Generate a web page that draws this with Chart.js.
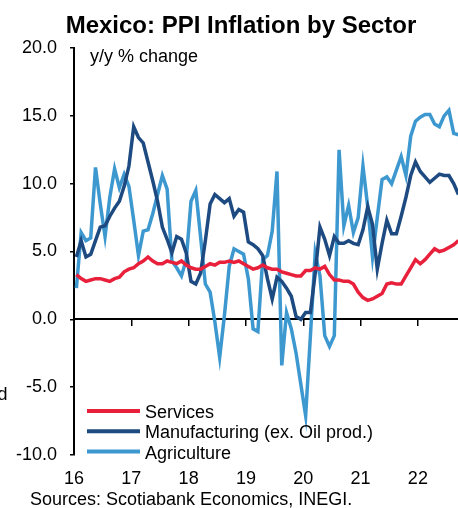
<!DOCTYPE html>
<html>
<head>
<meta charset="utf-8">
<script src="https://cdn.jsdelivr.net/npm/chart.js@4.4.1/dist/chart.umd.min.js"></script>
<style>
  html, body { margin: 0; padding: 0; background: #fff; }
  canvas { display: block; }
</style>
</head>
<body>
<canvas id="ppiChart" width="458" height="508"></canvas>
<script>
// monthly data, Jan 2016 .. Sep 2022 (y/y % change)
const startYear = 2016;
const yearLabels = ['16', '17', '18', '19', '20', '21', '22'];

const services = [
  3.3, 3.0, 2.8, 2.9, 3.0, 3.0, 2.9, 2.8, 3.0, 3.1, 3.5, 3.7,
  3.8, 4.1, 4.3, 4.6, 4.3, 4.1, 4.1, 4.3, 4.2, 4.1, 4.3, 4.0,
  3.8, 3.7, 3.7, 3.9, 4.1, 4.0, 4.2, 4.2, 4.3, 4.2, 4.3, 4.1,
  3.9, 3.7, 3.8, 4.0, 3.8, 3.7, 3.7, 3.5, 3.4, 3.3, 3.2, 3.2,
  3.6, 3.6, 3.8, 3.7, 3.9, 3.3, 2.9, 2.9, 2.8, 2.8, 2.6, 2.0,
  1.6, 1.4, 1.5, 1.7, 1.9, 2.6, 2.7, 2.6, 2.6, 3.2, 3.8, 4.4,
  4.1, 4.4, 4.8, 5.2, 5.0, 5.1, 5.3, 5.5, 5.8
];

const manufacturing = [
  4.6, 5.8, 4.6, 4.8, 5.8, 6.8, 6.9, 7.6, 8.2, 8.7, 9.8, 11.3,
  14.2, 13.4, 13.0, 11.6, 10.2, 8.7, 6.8, 5.9, 4.9, 6.1, 5.9, 4.9,
  2.8, 2.6, 3.4, 5.8, 8.5, 9.2, 8.9, 8.6, 8.9, 7.6, 8.1, 7.9,
  5.7, 5.5, 5.2, 4.7, 3.0, 1.5, 3.1, 2.8, 2.3, 1.7, 0.2, 0.0,
  0.5, 0.5, 3.4, 6.8, 5.9, 4.7, 6.1, 5.6, 5.6, 5.8, 5.6, 5.5,
  6.6, 8.3, 7.0, 3.7, 5.6, 7.3, 6.3, 6.3, 7.6, 9.0, 10.6, 11.6,
  10.9, 10.5, 10.1, 10.4, 10.7, 10.6, 10.6, 10.0, 9.2
];

const agriculture = [
  2.3, 6.4, 5.8, 6.0, 11.2, 8.5, 6.1, 9.0, 11.1, 9.7, 10.7, 9.8,
  7.3, 4.7, 6.5, 6.6, 7.8, 9.2, 10.6, 9.6, 4.3, 3.8, 3.2, 4.4,
  8.7, 9.5, 6.1, 2.6, 2.0, -0.2, -2.8, 0.3, 3.9, 5.2, 5.0, 4.8,
  3.0, -0.7, -0.9, 4.4, 4.7, 6.5, 10.9, -3.4, 0.5, -0.7, -2.5, -4.8,
  -7.1, -1.2, 4.9, 3.2, -1.2, -2.0, -1.2, 12.5, 6.9, 8.4, 6.4, 7.5,
  11.3, 8.3, 4.6, 7.5, 10.3, 10.5, 10.0, 11.0, 12.0, 10.6, 13.5, 14.6,
  14.9, 15.1, 15.1, 14.4, 14.2, 15.0, 15.4, 13.7, 13.6
];

const seriesNames = ['Services', 'Manufacturing (ex. Oil prod.)', 'Agriculture'];
const seriesColors = ['#e8203c', '#1d4a80', '#3d98d0'];

const titleText = 'Mexico: PPI Inflation by Sector';
const unitText = 'y/y % change';
const sourceText = 'Sources: Scotiabank Economics, INEGI.';

const FONT = '"Liberation Sans", Arial, sans-serif';
Chart.defaults.font.family = FONT;
Chart.defaults.font.size = 18;
Chart.defaults.color = '#000';

// x position of each month (decimal years, mid-month)
const toPoints = arr => arr.map((v, i) => ({ x: startYear + (i + 0.5) / 12, y: v }));

const data = {
  datasets: [services, manufacturing, agriculture].map((arr, k) => ({
    label: seriesNames[k],
    data: toPoints(arr),
    borderColor: seriesColors[k],
    backgroundColor: seriesColors[k],
    borderWidth: 3.5,
    pointRadius: 0,
    tension: 0
  }))
};

// title, unit label, legend and source line
const textPlugin = {
  id: 'texts',
  afterDraw(chart) {
    const ctx = chart.ctx;
    ctx.save();
    ctx.fillStyle = '#000';
    ctx.textBaseline = 'alphabetic';

    ctx.font = 'bold 24px ' + FONT;
    ctx.textAlign = 'center';
    ctx.fillText(titleText, 241, 33);

    ctx.font = '18px ' + FONT;
    ctx.textAlign = 'left';
    ctx.fillText(unitText, 90, 62);

    chart.data.datasets.forEach((ds, k) => {
      const y = 411 + k * 20.3;
      ctx.strokeStyle = ds.borderColor;
      ctx.lineWidth = 4;
      ctx.beginPath();
      ctx.moveTo(87, y);
      ctx.lineTo(140, y);
      ctx.stroke();
      ctx.fillText(ds.label, 145, y + 7);
    });

    ctx.fillText(sourceText, 30, 505);

    ctx.textAlign = 'right';
    ctx.fillText('d', 7.5, 400);
    ctx.restore();
  }
};

const config = {
  type: 'line',
  data: data,
  options: {
    responsive: false,
    animation: false,
    devicePixelRatio: 1,
    layout: { padding: { top: 48, left: 0, right: 0, bottom: 13 } },
    plugins: {
      legend: { display: false },
      title: { display: false },
      tooltip: { enabled: false }
    },
    scales: {
      x: {
        type: 'linear',
        position: 'bottom',
        min: startYear,
        max: startYear + 6.7,
        afterFit: scale => { scale.height = 40; },
        border: { display: false },
        grid: { display: false, drawTicks: false },
        ticks: {
          stepSize: 1,
          includeBounds: false,
          padding: 13,
          maxRotation: 0,
          callback: v => yearLabels[Math.round(v) - startYear]
        }
      },
      x0: {
        type: 'linear',
        axis: 'x',
        position: { y: 0 },
        min: startYear,
        max: startYear + 6.7,
        border: { display: true, color: '#000', width: 2 },
        grid: { drawOnChartArea: false, drawTicks: true, tickLength: 6, color: '#000', lineWidth: 1.5 },
        ticks: { display: false, stepSize: 1, includeBounds: false }
      },
      y: {
        min: -10,
        max: 20,
        afterFit: scale => { scale.width = 74; },
        border: { display: true, color: '#000', width: 2 },
        grid: { drawOnChartArea: false, tickLength: 4, color: '#000', lineWidth: 1.5 },
        ticks: {
          stepSize: 5,
          padding: 13,
          callback: v => v.toFixed(1)
        }
      }
    }
  },
  plugins: [textPlugin]
};

window.onload = function() {
  const ctx = document.getElementById('ppiChart').getContext('2d');
  new Chart(ctx, config);
};
</script>
</body>
</html>
